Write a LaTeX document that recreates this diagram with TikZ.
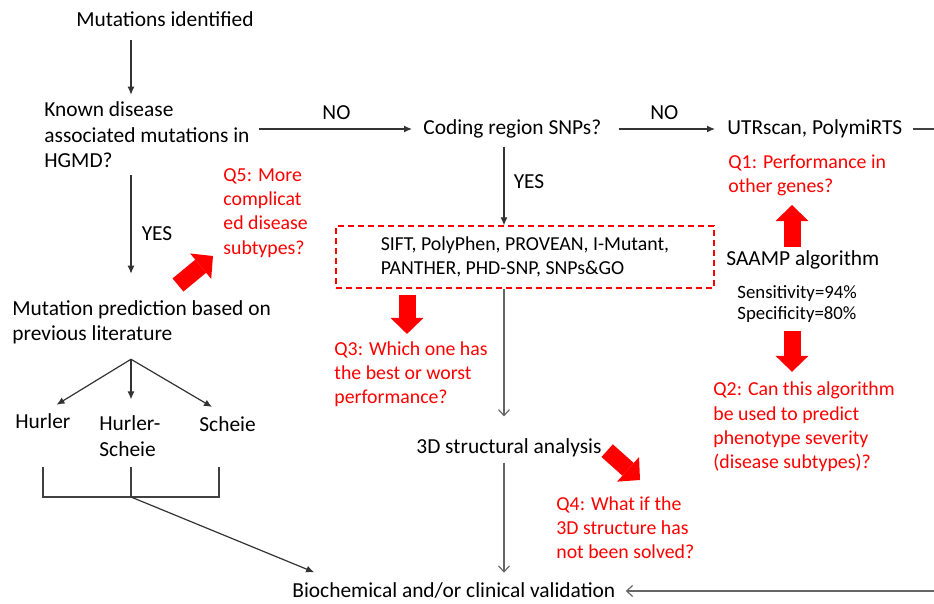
\documentclass[tikz,border=0pt]{standalone}
\usepackage{fontspec}
\setmainfont{Carlito}
\usepackage{tikz}
\usetikzlibrary{arrows.meta}
\usetikzlibrary{calc}

\tikzset{
  txt/.style={font=\fontsize{10.7}{12.7}\selectfont, inner sep=0pt, align=left, anchor=west},
  qtxt/.style={txt, text=red, font=\fontsize{9.9}{12.1}\selectfont},
  smalltxt/.style={txt, font=\fontsize{9.4}{10.5}\selectfont},
  arr/.style={draw=black!80, line width=0.6pt, -{Latex[length=4pt,width=3.5pt]}},
  thinarr/.style={draw=black!60, line width=0.6pt, -{Straight Barb[length=3pt,width=5.5pt]}},
  plain/.style={draw=black!75, line width=0.6pt},
  bigarr/.style={draw=red, line width=8.5pt, -{Triangle[length=8pt,width=16.5pt,line width=0pt]}},
}

\begin{document}
\begin{tikzpicture}[x=0.5pt,y=-0.5pt]
\useasboundingbox (0,0) rectangle (934,604);

% columns
\coordinate (colL) at (131,0);
\coordinate (colM) at (504,0);
\coordinate (colR) at (792,0);
\coordinate (colQ) at (407,0);
\coordinate (edge) at (934,0);

\node[txt] (mut) at (76,19) {Mutations identified};
\node[txt] (known) at (44,135) {Known disease\\associated mutations in\\HGMD?};
\node[txt] (coding) at (423,129) {Coding region SNPs?};
\node[txt] (utr) at (727,129) {UTRscan, PolymiRTS};
\node[qtxt] (qone) at (728,175) {Q1: Performance in\\other genes?};
\node[txt] (saamp) at (726,260) {SAAMP algorithm};
\node[smalltxt] (sens) at (737,304) {Sensitivity=94\%\\Specificity=80\%};
\node[qtxt] (qtwo) at (713,427) {Q2: Can this algorithm\\be used to predict\\phenotype severity\\(disease subtypes)?};

\node[draw=red, dashed, dash pattern=on 3pt off 2pt, line width=0.6pt, inner xsep=18pt, inner ysep=0pt,
  minimum width=189pt, minimum height=31pt, align=left,
  font=\fontsize{9.9}{12.1}\selectfont] (tools) at (525,257)
  {SIFT, PolyPhen, PROVEAN, I-Mutant,\\PANTHER, PHD-SNP, SNPs\&GO};
\node[qtxt] (qthree) at (334,374) {Q3: Which one has\\the best or worst\\performance?};
\node[txt] (struct) at (416,448) {3D structural analysis};
\node[qtxt] (qfour) at (556,528) {Q4: What if the\\3D structure has\\not been solved?};
\node[txt] (valid) at (292,591) {Biochemical and/or clinical validation};

\node[txt] (pred) at (12,322) {Mutation prediction based on\\previous literature};
\node[qtxt] (qfive) at (223,213) {Q5: More\\complicat\\ed disease\\subtypes?};
\node[txt] (hurler) at (15,421) {Hurler};
\node[txt] (hs) at (99,436) {Hurler-\\Scheie};
\node[txt] (scheie) at (199,424) {Scheie};

% main flow
\draw[arr, shorten <=6.5pt, shorten >=3.5pt] (mut.south -| colL) -- (known.north -| colL);
\draw[arr, shorten <=4.5pt, shorten >=5.5pt] (known.east |- coding.west) -- node[txt, anchor=center, yshift=8pt] (no1) {NO} (coding.west);
\draw[arr, shorten <=8.5pt, shorten >=6pt] (coding.east) -- node[txt, anchor=center, yshift=8pt] (no2) {NO} (utr.west);
\draw[plain, shorten <=5pt] (utr.east) -- (utr.east -| edge);
\draw[arr, shorten <=4pt] (coding.south -| colM) -- node[txt, anchor=center, xshift=12.5pt] (yes1) {YES} (tools.north -| colM);
\draw[thinarr, shorten >=11pt] (tools.south -| colM) -- (struct.north -| colM);
\draw[thinarr, shorten <=2.5pt, shorten >=5pt] (struct.south -| colM) -- (valid.north -| colM);
\draw[thinarr, shorten >=5pt] (valid.east -| edge) -- (valid.east);

% left branch
\draw[arr, shorten <=3.5pt, shorten >=13pt] (known.south -| colL) -- node[txt, anchor=center, xshift=13pt] (yes2) {YES} (pred.north -| colL);
\coordinate (apex) at ($(pred.south -| colL)+(0,15)$);
\draw[arr, shorten >=8pt] (apex) -- (hurler.north);
\draw[arr, shorten >=8pt] (apex) -- (hs.north -| colL);
\draw[arr, shorten >=9pt] (apex) -- (scheie.north);
\coordinate (br) at (131,497);
\draw[plain] (43,467) |- (219,497) -- (219,467);
\draw[plain] (131,467) -- (br);
\draw[arr, shorten >=1pt] (br) -- ([xshift=12pt, yshift=9pt]valid.west);

% questions
\draw[bigarr, shorten <=1.5pt, shorten >=4.5pt] (saamp.north -| colR) -- (qone.south -| colR);
\draw[bigarr, shorten <=4pt, shorten >=5pt] (sens.south -| colR) -- (qtwo.north -| colR);
\draw[bigarr, shorten <=3pt, shorten >=3.5pt] (tools.south -| colQ) -- (qthree.north -| colQ);
\coordinate (q4tip) at (640,480);
\draw[bigarr, shorten <=3.5pt] ([yshift=1]struct.east) -- (q4tip);
\coordinate (q5tail) at (178,285);
\coordinate (q5tip) at (213,256);
\draw[bigarr] (q5tail) -- (q5tip);

\end{tikzpicture}
\end{document}
